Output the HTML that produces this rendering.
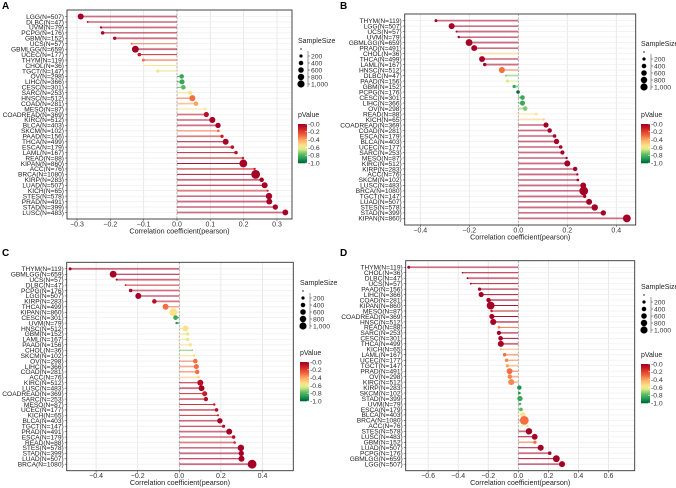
<!DOCTYPE html>
<html><head><meta charset="utf-8">
<style>
html,body{margin:0;padding:0;background:#fff;}
svg{display:block;font-family:"Liberation Sans",Arial,sans-serif;}
</style></head>
<body>
<svg id="chart" width="676" height="488" viewBox="0 0 676 488" xmlns="http://www.w3.org/2000/svg"></svg>
<script>
// ---------- Panel A data ----------
const catsA = ["LGG(N=507)","DLBC(N=47)","UVM(N=79)","PCPG(N=176)","GBM(N=152)","UCS(N=57)","GBMLGG(N=659)","UCEC(N=177)","THYM(N=119)","CHOL(N=36)","TGCT(N=147)","OV(N=298)","LIHC(N=366)","CESC(N=301)","SARC(N=253)","HNSC(N=512)","COAD(N=281)","MESO(N=87)","COADREAD(N=369)","KIRC(N=512)","BLCA(N=403)","SKCM(N=102)","PAAD(N=156)","THCA(N=499)","ESCA(N=179)","LAML(N=167)","READ(N=88)","KIPAN(N=860)","ACC(N=76)","BRCA(N=1080)","KIRP(N=283)","LUAD(N=507)","KICH(N=65)","STES(N=578)","PRAD(N=491)","STAD(N=399)","LUSC(N=483)"];
const corrA = [-0.289,-0.268,-0.228,-0.223,-0.187,-0.136,-0.125,-0.113,-0.101,-0.099,-0.058,0.014,0.015,0.019,0.039,0.046,0.057,0.084,0.088,0.106,0.123,0.124,0.135,0.146,0.166,0.177,0.198,0.199,0.233,0.236,0.254,0.263,0.272,0.276,0.277,0.295,0.325];
const pA = [0,0.02,0.02,0.02,0.02,0.3,0,0.08,0.3,0.55,0.6,0.85,0.85,0.8,0.6,0.3,0.4,0.55,0.05,0,0,0.3,0.1,0,0.05,0.05,0.1,0,0.1,0,0,0,0.1,0,0,0,0];
const ticksA = [-0.3,-0.2,-0.1,0.0,0.1,0.2,0.3];
const tickLabelsA = ["−0.3","−0.2","−0.1","0.0","0.1","0.2","0.3"];

// ---------- Panel B data ----------
const catsB = ["THYM(N=119)","LGG(N=507)","UCS(N=57)","UVM(N=79)","GBMLGG(N=659)","PRAD(N=491)","CHOL(N=36)","THCA(N=499)","LAML(N=167)","HNSC(N=512)","DLBC(N=47)","PAAD(N=156)","GBM(N=152)","PCPG(N=176)","CESC(N=301)","LIHC(N=366)","OV(N=298)","READ(N=88)","KICH(N=65)","COADREAD(N=369)","COAD(N=281)","ESCA(N=179)","BLCA(N=403)","UCEC(N=177)","SARC(N=253)","MESO(N=87)","KIRC(N=512)","KIRP(N=283)","ACC(N=76)","SKCM(N=102)","LUSC(N=483)","BRCA(N=1080)","TGCT(N=147)","LUAD(N=507)","STES(N=578)","STAD(N=399)","KIPAN(N=860)"];
const corrB = [-0.336,-0.272,-0.252,-0.243,-0.201,-0.18,-0.156,-0.148,-0.137,-0.067,-0.051,-0.044,-0.017,-0.001,0.017,0.017,0.028,0.073,0.104,0.113,0.128,0.148,0.156,0.173,0.18,0.197,0.2,0.232,0.241,0.243,0.265,0.267,0.271,0.289,0.312,0.347,0.443];
const pB = [0,0,0,0,0,0,0.5,0,0,0.3,0.75,0.65,0.85,1.0,0.85,0.85,0.75,0.55,0.5,0,0,0,0,0,0,0,0,0,0,0,0,0,0,0,0,0,0];
const ticksB = [-0.4,-0.2,0.0,0.2,0.4];
const tickLabelsB = ["−0.4","−0.2","0.0","0.2","0.4"];

// ---------- Panel C data ----------
const catsC = ["THYM(N=119)","GBMLGG(N=659)","UCS(N=57)","DLBC(N=47)","PCPG(N=176)","LGG(N=507)","KIRP(N=283)","THCA(N=499)","KIPAN(N=860)","CESC(N=301)","UVM(N=79)","HNSC(N=512)","GBM(N=152)","LAML(N=167)","PAAD(N=156)","CHOL(N=36)","SKCM(N=102)","OV(N=298)","LIHC(N=366)","COAD(N=281)","ACC(N=76)","KIRC(N=512)","LUSC(N=483)","COADREAD(N=369)","SARC(N=253)","MESO(N=87)","UCEC(N=177)","KICH(N=65)","BLCA(N=403)","TGCT(N=147)","PRAD(N=491)","ESCA(N=179)","READ(N=88)","STES(N=578)","STAD(N=399)","LUAD(N=507)","BRCA(N=1080)"];
const corrC = [-0.525,-0.318,-0.301,-0.258,-0.234,-0.197,-0.12,-0.066,-0.029,-0.018,-0.013,0.03,0.04,0.04,0.053,0.062,0.07,0.077,0.082,0.086,0.093,0.101,0.107,0.122,0.128,0.168,0.179,0.186,0.195,0.213,0.24,0.261,0.266,0.296,0.298,0.299,0.35];
const pC = [0,0,0.02,0.1,0.02,0,0.05,0.3,0.55,0.85,0.9,0.55,0.6,0.6,0.55,0.75,0.55,0.3,0.3,0.3,0.5,0.05,0,0.1,0.05,0.1,0.05,0.1,0,0.05,0,0.05,0.1,0,0,0,0];
const ticksC = [-0.4,-0.2,0.0,0.2,0.4];
const tickLabelsC = ["−0.4","−0.2","0.0","0.2","0.4"];

// ---------- Panel D data ----------
const catsD = ["THYM(N=119)","CHOL(N=36)","DLBC(N=47)","UCS(N=57)","PAAD(N=156)","LIHC(N=366)","COAD(N=281)","KIPAN(N=860)","MESO(N=87)","COADREAD(N=369)","HNSC(N=512)","READ(N=88)","SARC(N=253)","CESC(N=301)","THCA(N=499)","KICH(N=65)","LAML(N=167)","UCEC(N=177)","TGCT(N=147)","PRAD(N=491)","OV(N=298)","KIRC(N=512)","KIRP(N=283)","SKCM(N=102)","STAD(N=399)","UVM(N=79)","ESCA(N=179)","BLCA(N=403)","BRCA(N=1080)","ACC(N=76)","STES(N=578)","LUSC(N=483)","GBM(N=152)","LUAD(N=507)","PCPG(N=176)","GBMLGG(N=659)","LGG(N=507)"];
const corrD = [-0.729,-0.371,-0.338,-0.316,-0.258,-0.247,-0.198,-0.184,-0.178,-0.176,-0.167,-0.129,-0.129,-0.118,-0.116,-0.116,-0.091,-0.078,-0.073,-0.058,-0.056,-0.047,0.007,0.007,0.011,0.011,0.018,0.031,0.04,0.062,0.071,0.109,0.111,0.149,0.209,0.253,0.291];
const pD = [0.02,0.02,0.02,0.05,0.02,0,0,0,0.1,0,0,0.3,0,0,0,0.45,0.3,0.35,0.4,0.3,0.35,0.35,0.9,0.9,0.85,0.85,0.8,0.55,0.3,0.6,0,0,0.3,0,0.02,0,0];
const ticksD = [-0.6,-0.4,-0.2,0.0,0.2,0.4,0.6];
const tickLabelsD = ["−0.6","−0.4","−0.2","0.0","0.2","0.4","0.6"];

// legend data
const sizeLegendVals = [200,400,600,800,1000];
const sizeLegendLabels = ["200","400","600","800","1,000"];
const pLegendTicks = [0,0.2,0.4,0.6,0.8,1.0];
const pLegendLabels = ["0.0","0.2","0.4","0.6","0.8","1.0"];

const NS = "http://www.w3.org/2000/svg";
const svg = document.getElementById('chart');
function mk(tag, attrs, parent){const e=document.createElementNS(NS,tag);for(const k in attrs)e.setAttribute(k,attrs[k]);(parent||svg).appendChild(e);return e;}

const stops=[[0,[165,0,38]],[0.15,[215,48,39]],[0.3,[244,109,67]],[0.42,[253,174,97]],[0.55,[254,224,139]],[0.65,[217,239,139]],[0.78,[102,189,99]],[0.9,[26,152,80]],[1,[0,104,55]]];
function pColor(p){for(let i=1;i<stops.length;i++){if(p<=stops[i][0]){const a=stops[i-1],b=stops[i];const t=(p-a[0])/(b[0]-a[0]);const c=a[1].map((v,j)=>Math.round(v+(b[1][j]-v)*t));return `rgb(${c[0]},${c[1]},${c[2]})`;}}return 'rgb(0,104,55)';}
function nOf(label){return +label.match(/N=(\d+)/)[1];}
function rOf(n){return Math.max(0.8,Math.sqrt(n/1080)*4.4);}

function drawPanel(cfg){
  const g=mk('g',{});
  
  
  const L=cfg.left,R=cfg.right,T=cfg.top,B=cfg.bottom;
  const x=v=>cfg.zero+v*cfg.unit;
  const n=cfg.cats.length;
  const step=(B-T)/(n-1+2.4);
  const y=i=>T+1.2*step+i*step;
  const letter=mk('text',{x:cfg.lx,y:cfg.ly,'font-size':10,'font-weight':'bold',fill:'#000'},g);
  letter.textContent=cfg.id;
  
  
  mk('rect',{x:L,y:T,width:R-L,height:B-T,fill:'#fff'},g);
  cfg.ticks.forEach(t=>{mk('line',{x1:x(t),x2:x(t),y1:T,y2:B,stroke:'#e3e3e3','stroke-width':0.8},g);});
  cfg.cats.forEach((c,i)=>{mk('line',{x1:L,x2:R,y1:y(i),y2:y(i),stroke:'#ececec','stroke-width':0.6},g);});
  mk('line',{x1:x(0),x2:x(0),y1:T,y2:B,stroke:'#999','stroke-width':0.7,'stroke-dasharray':'2,1.5'},g);
  cfg.cats.forEach((c,i)=>{
    const col=pColor(cfg.p[i]);
    const seg=mk('line',{x1:x(0),x2:x(cfg.vals[i]),y1:y(i),y2:y(i),stroke:col,'stroke-width':(i%2?1.0:1.8),'stroke-opacity':(i%2?0.9:0.55)},g);
    
    
    const dot=mk('circle',{cx:x(cfg.vals[i]),cy:y(i),r:rOf(nOf(c)),fill:col},g);
    
    
    const lab=mk('text',{x:L-3,y:y(i)+2.3,'font-size':6.6,'text-anchor':'end',fill:'#222'},g);
    lab.textContent=c;
    
    
    mk('line',{x1:L-2,x2:L,y1:y(i),y2:y(i),stroke:'#333','stroke-width':0.5},g);
  });
  mk('rect',{x:L,y:T,width:R-L,height:B-T,fill:'none',stroke:'#333','stroke-width':0.9},g);
  cfg.ticks.forEach((t,k)=>{
    mk('line',{x1:x(t),x2:x(t),y1:B,y2:B+2,stroke:'#333','stroke-width':0.5},g);
    const tl=mk('text',{x:x(t),y:B+7.5,'font-size':7,'text-anchor':'middle',fill:'#333'},g);
    tl.textContent=cfg.tickLabels[k];
    
    
  });
  const xt=mk('text',{x:(L+R)/2,y:B+14.5,'font-size':7.2,'text-anchor':'middle',fill:'#222'},g);
  xt.textContent='Correlation coefficient(pearson)';
  
  
  const lg=mk('g',{},g);
  
  
  const st=mk('text',{x:cfg.legX-2,y:cfg.legY,'font-size':7,fill:'#222'},lg);
  st.textContent='SampleSize';
  const sy=cfg.legY+10;
  mk('line',{x1:cfg.legX+8,x2:cfg.legX+8,y1:sy-2,y2:sy+34,stroke:'#333','stroke-width':0.5},lg);
  mk('circle',{cx:cfg.legX+1,cy:sy-4,r:0.7,fill:'#000'},lg);
  sizeLegendVals.forEach((v,k)=>{
    const yy=sy+3+k*7;
    mk('circle',{cx:cfg.legX+1,cy:yy,r:rOf(v)*0.85,fill:'#000'},lg);
    mk('line',{x1:cfg.legX+8,x2:cfg.legX+10,y1:yy,y2:yy,stroke:'#333','stroke-width':0.5},lg);
    const t=mk('text',{x:cfg.legX+11,y:yy+2.4,'font-size':6.8,fill:'#333'},lg);
    t.textContent=sizeLegendLabels[k];
  });
  const cg=mk('g',{},g);
  
  
  const pt=mk('text',{x:cfg.legX-2,y:cfg.pY,'font-size':7,fill:'#222'},cg);
  pt.textContent='pValue';
  const by=cfg.pY+7, bh=39;
  for(let k=0;k<40;k++){mk('rect',{x:cfg.legX-2,y:by+k*bh/40,width:9,height:bh/40+0.3,fill:pColor(k/39)},cg);}
  pLegendTicks.forEach((t,k)=>{
    const yy=by+t*bh;
    mk('line',{x1:cfg.legX+5,x2:cfg.legX+7,y1:yy,y2:yy,stroke:'#fff','stroke-width':0.5},cg);
    const tt=mk('text',{x:cfg.legX+8,y:yy+2.4,'font-size':6.8,fill:'#333'},cg);
    tt.textContent='-'+pLegendLabels[k];
  });
}

drawPanel({id:'A',cats:catsA,vals:corrA,p:pA,ticks:ticksA,tickLabels:tickLabelsA,left:67,right:292,top:10,bottom:219,zero:177,unit:333.3,lx:2,ly:9,legX:300,legY:43,pY:117});
drawPanel({id:'B',cats:catsB,vals:corrB,p:pB,ticks:ticksB,tickLabels:tickLabelsB,left:404.7,right:635.7,top:14,bottom:225,zero:518.3,unit:245,lx:340,ly:9,legX:643,legY:46,pY:117});
drawPanel({id:'C',cats:catsC,vals:corrC,p:pC,ticks:ticksC,tickLabels:tickLabelsC,left:66.7,right:293.3,top:262.3,bottom:470.7,zero:179.3,unit:208,lx:2,ly:256,legX:302,legY:285,pY:355});
drawPanel({id:'D',cats:catsD,vals:corrD,p:pD,ticks:ticksD,tickLabels:tickLabelsD,left:405.7,right:634.7,top:260.7,bottom:470.7,zero:518.3,unit:150.3,lx:340,ly:256,legX:643,legY:289,pY:357});
</script>
</body></html>
